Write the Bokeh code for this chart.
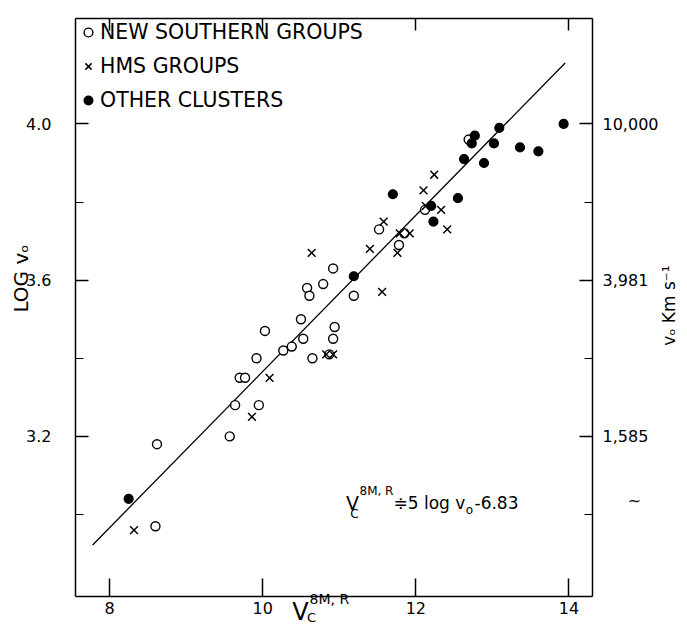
import math

from bokeh.embed import file_html
from bokeh.models import (FixedTicker, Label, Legend, LegendItem, LinearAxis,
                          LogAxis, LogScale, NumeralTickFormatter, Range1d)
from bokeh.plotting import figure
from bokeh.resources import INLINE

# ---- data -----------------------------------------------------------------
# new southern groups (open circles): corrected magnitude V_C^{8M,R}, log v0
southern_v = [8.62, 8.60, 9.57, 9.64, 9.95, 9.70, 9.77, 9.92, 10.03, 10.27,
              10.38, 10.53, 10.50, 10.65, 10.87, 10.92, 10.94, 10.58, 10.61,
              10.79, 11.19, 10.92, 11.52, 11.78, 11.85, 12.12, 12.69]
southern_logv = [3.18, 2.97, 3.20, 3.28, 3.28, 3.35, 3.35, 3.40, 3.47, 3.42,
                 3.43, 3.45, 3.50, 3.40, 3.41, 3.45, 3.48, 3.58, 3.56,
                 3.59, 3.56, 3.63, 3.73, 3.69, 3.72, 3.78, 3.96]

# HMS groups (crosses)
hms_v = [8.32, 9.86, 10.09, 10.83, 10.92, 10.64, 11.40, 11.56, 11.58, 11.76,
         11.79, 11.92, 12.10, 12.24, 12.13, 12.33, 12.41]
hms_logv = [2.96, 3.25, 3.35, 3.41, 3.41, 3.67, 3.68, 3.57, 3.75, 3.67,
            3.72, 3.72, 3.83, 3.87, 3.79, 3.78, 3.73]

# other clusters (filled circles)
other_v = [8.25, 11.19, 11.70, 12.20, 12.23, 12.55, 12.63, 12.89, 13.02,
           12.77, 12.73, 13.09, 13.36, 13.60, 13.93]
other_logv = [3.04, 3.61, 3.82, 3.79, 3.75, 3.81, 3.91, 3.90, 3.95,
              3.97, 3.95, 3.99, 3.94, 3.93, 4.00]

# fitted relation  V = 5 log v0 - 6.83
fit_slope = 5.0
fit_zero = -6.83
fit_v = [7.78, 13.95]

x_ticks = [8, 10, 12, 14]
logv_ticks = [3.2, 3.6, 4.0]
logv_minor = [3.0, 3.4, 3.8]

# ---- layout ---------------------------------------------------------------
W, H = 687, 627
FL, FR, FT, FB = 75, 592, 18, 596          # boxed panel edges in pixels
X0, X1 = 7.556, 14.307                     # data limits of the boxed panel
Y0, Y1 = 2.790, 4.270
FONT = "DejaVu Sans"

# the plotting frame covers the whole canvas; the box is drawn by the
# four axes pinned at the panel limits
kx = (X1 - X0) / (FR - FL)
ky = (Y1 - Y0) / (FB - FT)
XA, XB = X0 - FL * kx, X1 + (W - FR) * kx
YA, YB = Y0 - (H - FB) * ky, Y1 + FT * ky


def at(px, py):
    """Canvas pixel position -> data coordinates (for text placement)."""
    return dict(x=XA + px * kx, y=YB - py * ky)


p = figure(width=W, height=H, output_backend="svg", toolbar_location=None,
           x_range=Range1d(XA, XB), y_range=Range1d(YA, YB),
           x_axis_location=None, y_axis_location=None,
           min_border_left=0, min_border_right=0,
           min_border_top=0, min_border_bottom=0)
p.extra_y_ranges = {"vel": Range1d(10 ** YA, 10 ** YB)}
p.extra_y_scales = {"vel": LogScale()}
p.grid.visible = False
p.outline_line_color = None
p.background_fill_color = "white"
p.border_fill_color = "white"

common = dict(axis_line_width=1.5, major_tick_line_width=1.5,
              minor_tick_line_width=1.2, major_tick_out=0, minor_tick_out=0,
              major_label_text_font=FONT, major_label_text_color="black")

bottom = LinearAxis(fixed_location=Y0, bounds=(X0, X1),
                    ticker=FixedTicker(ticks=x_ticks, minor_ticks=[]),
                    major_tick_in=18, major_label_standoff=5,
                    major_label_text_font_size="16px", **common)
p.add_layout(bottom, "below")

top = LinearAxis(fixed_location=Y1, bounds=(X0, X1),
                 ticker=FixedTicker(ticks=x_ticks, minor_ticks=[]),
                 major_tick_in=12, major_label_text_alpha=0,
                 major_label_standoff=0, major_label_text_font_size="1px",
                 **common)
p.add_layout(top, "above")

left = LinearAxis(fixed_location=X0, bounds=(Y0, Y1),
                  ticker=FixedTicker(ticks=logv_ticks, minor_ticks=logv_minor),
                  formatter=NumeralTickFormatter(format="0.0"),
                  major_tick_in=13, minor_tick_in=8, major_label_standoff=24,
                  major_label_text_font_size="16px", **common)
p.add_layout(left, "left")

right = LogAxis(y_range_name="vel", fixed_location=X1,
                bounds=(10 ** Y0, 10 ** Y1),
                ticker=FixedTicker(ticks=[10 ** t for t in logv_ticks],
                                   minor_ticks=[10 ** t for t in logv_minor]),
                formatter=NumeralTickFormatter(format="0,0"),
                major_tick_in=13, minor_tick_in=8, major_label_standoff=10,
                major_label_text_font_size="16px", **common)
p.add_layout(right, "right")

# ---- marks ----------------------------------------------------------------
fit_logv = [(v - fit_zero) / fit_slope for v in fit_v]
p.line(fit_v, fit_logv, line_color="black", line_width=1.3)

r_south = p.scatter(southern_v, southern_logv, marker="circle", size=9,
                    fill_color="white", line_color="black", line_width=1.4)
r_hms = p.scatter(hms_v, hms_logv, marker="x", size=11,
                  line_color="black", line_width=1.5)
r_other = p.scatter(other_v, other_logv, marker="circle", size=9,
                    fill_color="black", line_color="black", line_width=1.2)

legend = Legend(items=[LegendItem(label="NEW SOUTHERN GROUPS", renderers=[r_south]),
                       LegendItem(label="HMS GROUPS", renderers=[r_hms]),
                       LegendItem(label="OTHER CLUSTERS", renderers=[r_other])],
                location=(FL, H - 17.5 - 96), margin=0, padding=2,
                glyph_width=22, glyph_height=24, label_height=24,
                label_standoff=1, spacing=10,
                label_text_font=FONT, label_text_font_size="20.5px",
                label_text_color="black",
                border_line_alpha=0, background_fill_alpha=0)
p.add_layout(legend)


def text(s, px, py, size, align="left", angle=0.0):
    p.add_layout(Label(**at(px, py), text=s, text_font=FONT,
                       text_font_size=f"{size}px", text_color="black",
                       text_align=align, text_baseline="middle", angle=angle))


# axis titles
text("LOG vₒ", 20, 278, 20, align="center", angle=math.pi / 2)
text("vₒ Km s⁻¹", 668, 305, 17, align="center", angle=math.pi / 2)
text("~", 634, 500, 16, align="center")
text("V", 300, 611, 24, align="center")
text("8M, R", 309, 598, 14)
text("C", 311, 617, 13, align="center")

# relation written in the panel
text("V", 352, 502, 19, align="center")
text("8M, R", 359, 490, 12)
text("C", 354, 513, 12, align="center")
text("≑5 log v", 393, 502, 17)
text("o", 469, 509, 12, align="center")
text("-6.83", 474, 502, 17)

open("out.html", "w").write(file_html(p, INLINE))
